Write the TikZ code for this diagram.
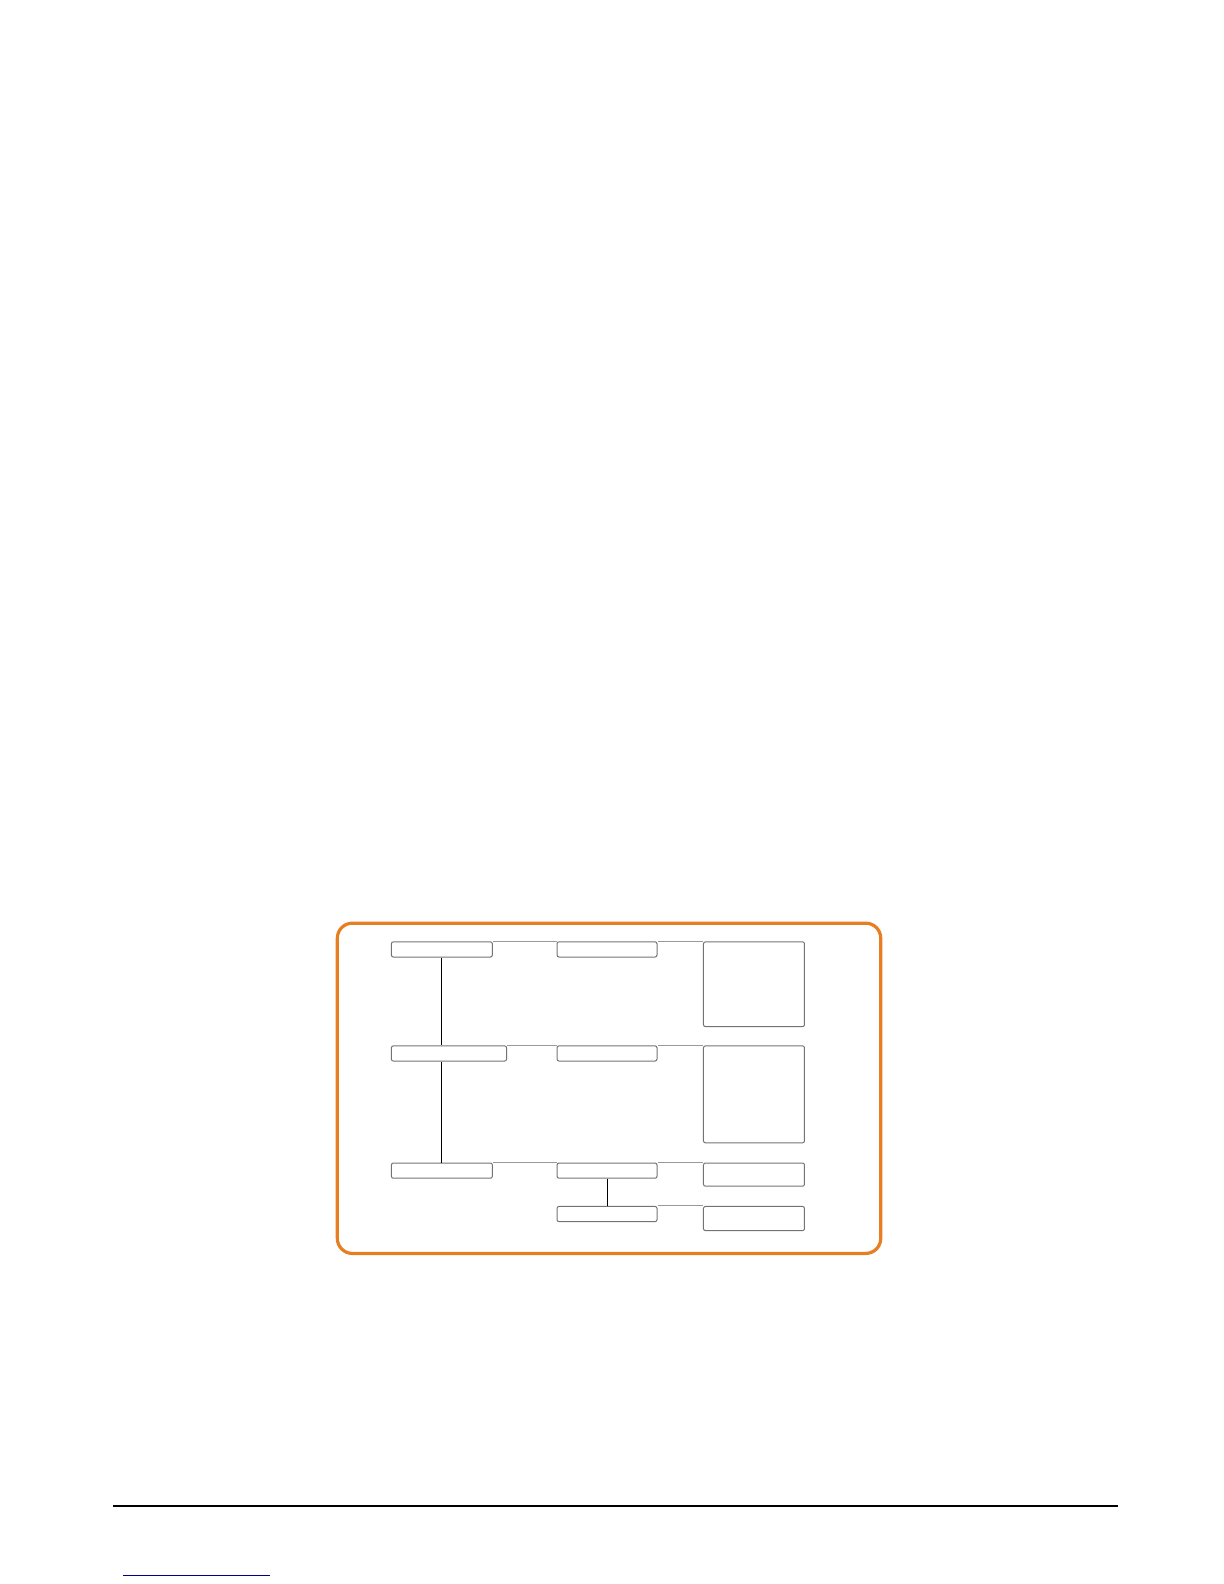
\documentclass[tikz,border=0pt]{standalone}
\definecolor{frameorange}{RGB}{232,126,34}
\definecolor{linknavy}{RGB}{0,0,140}
\tikzset{
  box/.style     = {draw=black!55, rounded corners=1bp, line width=0.5bp,
                    inner sep=0pt, anchor=north west,
                    minimum width=50.5bp, minimum height=7.6bp},
  link/.style    = {draw=black!40, line width=0.5bp},
  spine/.style   = {draw=black, line width=0.5bp},
  frame/.style   = {draw=frameorange, line width=1.6bp, rounded corners=7.5bp}
}
\begin{document}
\begin{tikzpicture}[x=0.505bp, y=-0.505bp]
  \useasboundingbox (0,0) rectangle (612bp,-792bp);
  % outer frame
  \draw[frame] (334,914) rectangle (872,1241);
  % left column
  \node[box]                       (a1) at (387,932)  {};
  \node[box, minimum width=57.6bp] (a2) at (387,1035) {};
  \node[box]                       (a3) at (387,1151) {};
  % middle column
  \node[box, minimum width=50bp] (b1) at (551,932)  {};
  \node[box, minimum width=50bp] (b2) at (551,1035) {};
  \node[box, minimum width=50bp] (b3) at (551,1151) {};
  \node[box, minimum width=50bp] (b4) at (551,1194) {};
  % right column
  \node[box, minimum height=42.4bp] (c1) at (696,932)  {};
  \node[box, minimum height=48.5bp] (c2) at (696,1035) {};
  \node[box, minimum height=11.6bp] (c3) at (696,1151) {};
  \node[box, minimum height=12.1bp] (c4) at (696,1194) {};
  % connectors
  \draw[spine] (a1.south) -- (a1.south |- a2.north);
  \draw[spine] (a1.south |- a2.south) -- (a3.north);
  \draw[spine] (b3.south) -- (b4.north);
  \draw[link] (a1.north east) -- (b1.north west);
  \draw[link] (b1.north east) -- (c1.north west);
  \draw[link] (a2.north east) -- (b2.north west);
  \draw[link] (b2.north east) -- (c2.north west);
  \draw[link] (a3.north east) -- (b3.north west);
  \draw[link] (b3.north east) -- (c3.north west);
  \draw[link] (b4.north east) -- (c4.north west);
  % page footer
  \draw[black, line width=0.7bp] (112,1491) -- (1107,1491);
  \draw[linknavy, line width=0.7bp] (122,1560) -- (267,1560);
\end{tikzpicture}
\end{document}
